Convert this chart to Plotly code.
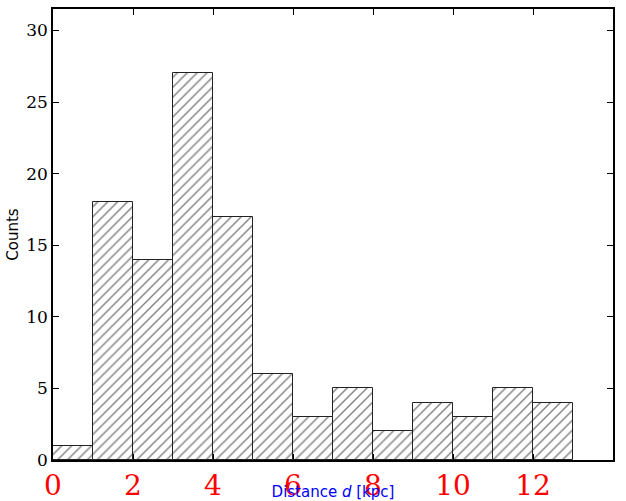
import plotly.graph_objects as go

bin_left = [0, 1, 2, 3, 4, 5, 6, 7, 8, 9, 10, 11, 12]
counts = [1, 18, 14, 27, 17, 6, 3, 5, 2, 4, 3, 5, 4]
bin_width = 1
x_ticks = [0, 2, 4, 6, 8, 10, 12, 14]
y_ticks = [0, 5, 10, 15, 20, 25, 30]

fig = go.Figure()
fig.add_trace(go.Bar(
    x=[b + bin_width / 2 for b in bin_left],
    y=counts,
    width=[bin_width] * len(counts),
    marker=dict(
        color="white",
        line=dict(color="#222222", width=1),
        pattern=dict(shape="/", size=7, solidity=0.2, fgcolor="#000000", bgcolor="white"),
    ),
    showlegend=False,
))

fig.update_layout(
    width=626, height=501,
    margin=dict(l=53, r=13, t=9, b=41),
    paper_bgcolor="white", plot_bgcolor="white",
    bargap=0,
)
fig.update_xaxes(
    range=[0, 14], tickvals=x_ticks, ticks="inside", ticklen=6, tickwidth=1,
    tickcolor="black", mirror="ticks", showline=True, linecolor="black", linewidth=1.5,
    showgrid=False, zeroline=False, automargin=False,
    tickfont=dict(family="DejaVu Serif", size=28, color="red"),
    title_text="Distance <i>d</i> [kpc]",
    title_font=dict(family="DejaVu Sans", size=15, color="blue"),
    title_standoff=4,
)
fig.update_yaxes(
    range=[0, 31.5], tickvals=y_ticks, ticks="inside", ticklen=6, tickwidth=1,
    tickcolor="black", mirror="ticks", showline=True, linecolor="black", linewidth=1.5,
    showgrid=False, zeroline=False, automargin=False,
    tickfont=dict(family="DejaVu Serif", size=17, color="black"),
    title_text="Counts",
    title_font=dict(family="DejaVu Sans", size=15, color="black"),
    title_standoff=4,
)
fig.write_html("out.html")
